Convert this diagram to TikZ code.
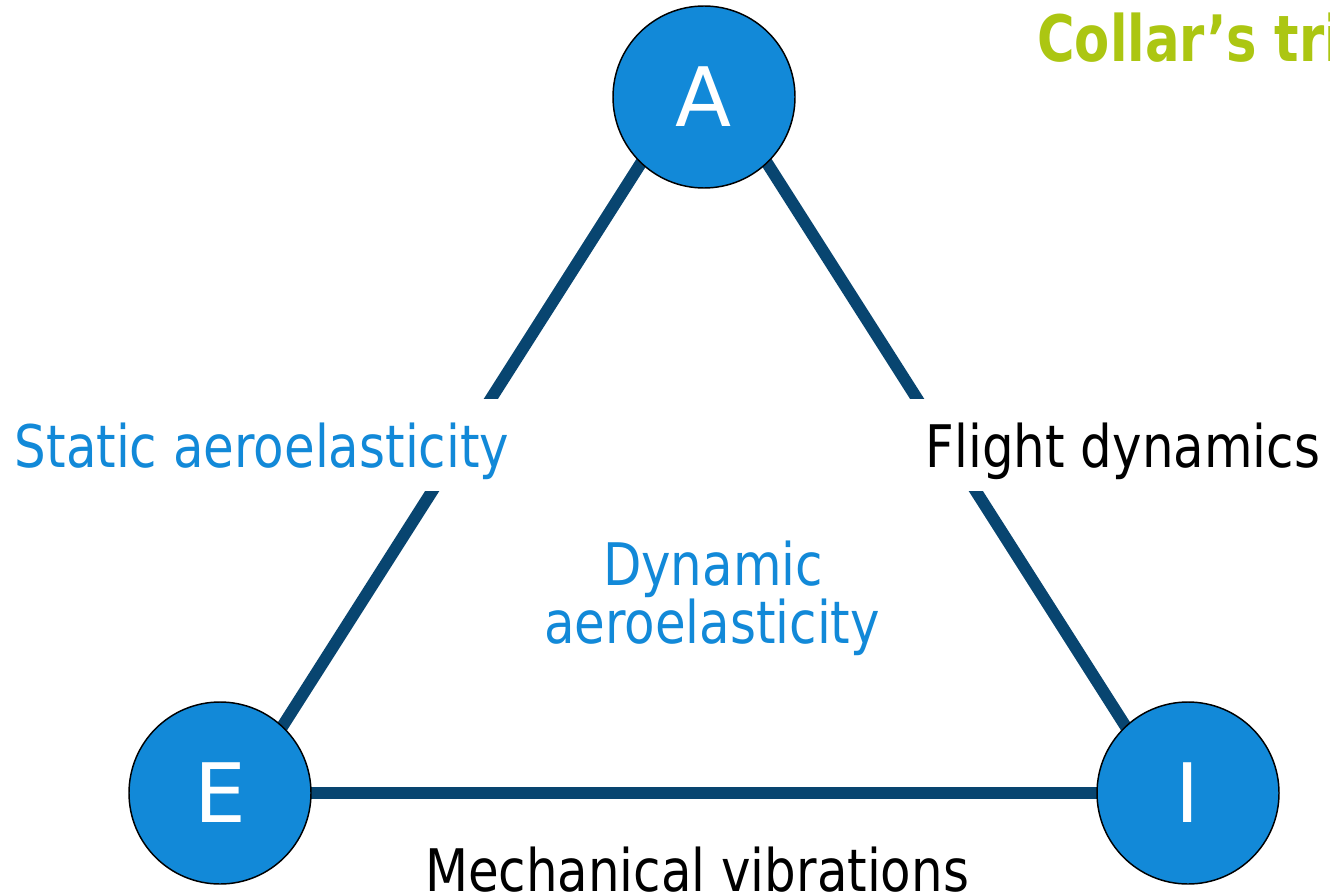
\documentclass[tikz,border=0pt]{standalone}
\usepackage{fontspec}
\setmainfont{DejaVu Sans}
\newfontfamily\lblfont[FakeStretch=0.85]{DejaVu Sans}
\newfontfamily\ttlfont[FakeStretch=0.8]{DejaVu Sans}
\usetikzlibrary{backgrounds,calc}
\definecolor{lineblue}{RGB}{8,69,112}
\definecolor{nodeblue}{RGB}{18,137,216}
\definecolor{titlegreen}{RGB}{172,198,18}
\tikzset{
  vert/.style={circle, fill=nodeblue, draw=black, line width=1.1pt,
    minimum size=136.5pt, inner sep=0pt, text=white,
    font=\fontsize{61.5}{70}\selectfont},
  conn/.style={draw=lineblue, line width=9pt},
  lbl/.style={inner sep=0pt, font=\lblfont\fontsize{44}{52}\selectfont},
  gapbox/.style={fill=white, text height=51pt, text depth=18pt, inner ysep=0pt},
  ttl/.style={inner sep=0pt, text=titlegreen, font=\ttlfont\bfseries\fontsize{48}{56}\selectfont}
}
\begin{document}
\begin{tikzpicture}[x=0.75pt,y=-0.75pt]
\useasboundingbox (0,0) rectangle (1330,895);
\node[vert] (A) at (704,97) {A};
\node[vert] (E) at (220,793) {E};
\node[vert] (I) at (1188,793) {I};
\begin{scope}[on background layer]
  \fill[white] (0,0) rectangle (1330,895);
  \draw[conn] ($(A.center)+(0,-33)$) -- ($(E.center)+(20,0)$);
  \draw[conn] ($(A.center)+(0,-33)$) -- ($(I.center)+(-20,0)$);
  \draw[conn] (E.center) -- (I.center);
\end{scope}
\node[lbl, gapbox, inner xsep=6pt, text=nodeblue, anchor=base] (SA) at (262,467) {Static aeroelasticity};
\node[lbl, gapbox, inner xsep=14pt, text=black, anchor=base] (FD) at (1123,467) {Flight dynamics};
\node[lbl, text=black, anchor=base] (MV) at (697,891) {Mechanical vibrations};
\node[lbl, text=nodeblue, anchor=base] (DA1) at (713,585) {Dynamic};
\node[lbl, text=nodeblue, anchor=base] (DA2) at (712,643) {aeroelasticity};
\node[ttl, anchor=base west] (T) at (1037,62) {Collar’s triangle};
\end{tikzpicture}
\end{document}
